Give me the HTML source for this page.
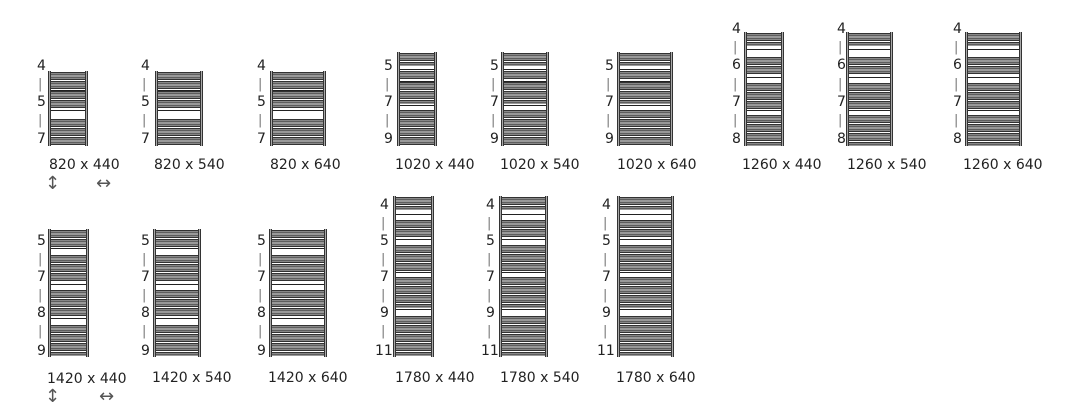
<!DOCTYPE html>
<html><head><meta charset="utf-8"><style>
html,body{margin:0;padding:0;background:#fff;}
body{width:1076px;height:409px;position:relative;overflow:hidden;font-family:"DejaVu Sans","Liberation Sans",sans-serif;color:#222;}
.t{position:absolute;font-size:14px;line-height:14px;white-space:nowrap;}
.n{position:absolute;font-size:14px;line-height:14px;}
.bar{position:absolute;font-size:13px;line-height:13px;color:#777;}
.ar{position:absolute;font-size:18px;line-height:18px;color:#555;}
svg{position:absolute;left:0;top:0;}
</style></head><body>
<svg id="s" width="1076" height="409"></svg>

<div class="t" style="left:49px;top:158px">820 x 440</div>
<div class="t" style="left:154px;top:158px">820 x 540</div>
<div class="t" style="left:270px;top:158px">820 x 640</div>
<div class="t" style="left:395px;top:158px">1020 x 440</div>
<div class="t" style="left:500px;top:158px">1020 x 540</div>
<div class="t" style="left:617px;top:158px">1020 x 640</div>
<div class="t" style="left:742px;top:158px">1260 x 440</div>
<div class="t" style="left:847px;top:158px">1260 x 540</div>
<div class="t" style="left:963px;top:158px">1260 x 640</div>
<div class="t" style="left:47px;top:372px">1420 x 440</div>
<div class="t" style="left:152px;top:371px">1420 x 540</div>
<div class="t" style="left:268px;top:371px">1420 x 640</div>
<div class="t" style="left:395px;top:371px">1780 x 440</div>
<div class="t" style="left:500px;top:371px">1780 x 540</div>
<div class="t" style="left:616px;top:371px">1780 x 640</div>
<div class="ar" style="left:45px;top:175px">↕</div>
<div class="ar" style="left:96px;top:175px">↔</div>
<div class="ar" style="left:45px;top:388px">↕</div>
<div class="ar" style="left:99px;top:388px">↔</div>

<script>
var s=document.getElementById('s'),h='';
function R(x,y,w,hh,f){h+='<rect x="'+x+'" y="'+y+'" width="'+w+'" height="'+hh+'" fill="'+f+'"/>';}
function rad(x0,x1,top,bot,groups){
 groups.forEach(function(g){
  for(var y=g[0];y<g[1]-2;y+=4.5){R(x0,y,x1-x0,3.5,'#333');R(x0+1,y+1,x1-x0-2,1.5,'#888');}
 });
 for(var i=0;i<groups.length-1;i++){R(x0,groups[i][1]+2,x1-x0,1,'#222');}
 R(x0,top,3,bot-top,'#333');R(x1-3,top,3,bot-top,'#333');
 R(x0+1,top,1,bot-top,'#aaa');R(x1-2,top,1,bot-top,'#aaa');
}
var g820=[[72,88],[91,108],[119,145]];
var g1020=[[53,67],[71,79],[82,103],[110,145]];
var g1260=[[33,47],[57,75],[83,108],[115,145]];
var g1420=[[230,246],[255,282],[290,316],[325,356]];
var g1780=[[197,212],[220,237],[245,270],[277,307],[316,356]];
rad(48,88,71,146,g820);rad(155,203,71,146,g820);rad(270,326,71,146,g820);
rad(397,437,52,146,g1020);rad(501,549,52,146,g1020);rad(617,673,52,146,g1020);
rad(744,784,32,146,g1260);rad(846,893,32,146,g1260);rad(965,1022,32,146,g1260);
rad(48,89,229,357,g1420);rad(153,201,229,357,g1420);rad(269,327,229,357,g1420);
rad(393,434,196,357,g1780);rad(499,548,196,357,g1780);rad(617,674,196,357,g1780);
s.innerHTML=h;
</script>

<div class="n" style="left:37px;top:59px">4</div><div class="bar" style="left:38px;top:78px">|</div><div class="n" style="left:37px;top:95px">5</div><div class="bar" style="left:38px;top:114px">|</div><div class="n" style="left:37px;top:132px">7</div>
<div class="n" style="left:141px;top:59px">4</div><div class="bar" style="left:142px;top:78px">|</div><div class="n" style="left:141px;top:95px">5</div><div class="bar" style="left:142px;top:114px">|</div><div class="n" style="left:141px;top:132px">7</div>
<div class="n" style="left:257px;top:59px">4</div><div class="bar" style="left:258px;top:78px">|</div><div class="n" style="left:257px;top:95px">5</div><div class="bar" style="left:258px;top:114px">|</div><div class="n" style="left:257px;top:132px">7</div>

<div class="n" style="left:384px;top:59px">5</div><div class="bar" style="left:385px;top:78px">|</div><div class="n" style="left:384px;top:95px">7</div><div class="bar" style="left:385px;top:114px">|</div><div class="n" style="left:384px;top:132px">9</div>
<div class="n" style="left:490px;top:59px">5</div><div class="bar" style="left:491px;top:78px">|</div><div class="n" style="left:490px;top:95px">7</div><div class="bar" style="left:491px;top:114px">|</div><div class="n" style="left:490px;top:132px">9</div>
<div class="n" style="left:605px;top:59px">5</div><div class="bar" style="left:606px;top:78px">|</div><div class="n" style="left:605px;top:95px">7</div><div class="bar" style="left:606px;top:114px">|</div><div class="n" style="left:605px;top:132px">9</div>

<div class="n" style="left:732px;top:22px">4</div><div class="bar" style="left:733px;top:41px">|</div><div class="n" style="left:732px;top:58px">6</div><div class="bar" style="left:733px;top:78px">|</div><div class="n" style="left:732px;top:95px">7</div><div class="bar" style="left:733px;top:114px">|</div><div class="n" style="left:732px;top:132px">8</div>
<div class="n" style="left:837px;top:22px">4</div><div class="bar" style="left:838px;top:41px">|</div><div class="n" style="left:837px;top:58px">6</div><div class="bar" style="left:838px;top:78px">|</div><div class="n" style="left:837px;top:95px">7</div><div class="bar" style="left:838px;top:114px">|</div><div class="n" style="left:837px;top:132px">8</div>
<div class="n" style="left:953px;top:22px">4</div><div class="bar" style="left:954px;top:41px">|</div><div class="n" style="left:953px;top:58px">6</div><div class="bar" style="left:954px;top:78px">|</div><div class="n" style="left:953px;top:95px">7</div><div class="bar" style="left:954px;top:114px">|</div><div class="n" style="left:953px;top:132px">8</div>

<div class="n" style="left:37px;top:234px">5</div><div class="bar" style="left:38px;top:253px">|</div><div class="n" style="left:37px;top:270px">7</div><div class="bar" style="left:38px;top:289px">|</div><div class="n" style="left:37px;top:306px">8</div><div class="bar" style="left:38px;top:325px">|</div><div class="n" style="left:37px;top:344px">9</div>
<div class="n" style="left:141px;top:234px">5</div><div class="bar" style="left:142px;top:253px">|</div><div class="n" style="left:141px;top:270px">7</div><div class="bar" style="left:142px;top:289px">|</div><div class="n" style="left:141px;top:306px">8</div><div class="bar" style="left:142px;top:325px">|</div><div class="n" style="left:141px;top:344px">9</div>
<div class="n" style="left:257px;top:234px">5</div><div class="bar" style="left:258px;top:253px">|</div><div class="n" style="left:257px;top:270px">7</div><div class="bar" style="left:258px;top:289px">|</div><div class="n" style="left:257px;top:306px">8</div><div class="bar" style="left:258px;top:325px">|</div><div class="n" style="left:257px;top:344px">9</div>

<div class="n" style="left:380px;top:198px">4</div><div class="bar" style="left:381px;top:217px">|</div><div class="n" style="left:380px;top:234px">5</div><div class="bar" style="left:381px;top:253px">|</div><div class="n" style="left:380px;top:270px">7</div><div class="bar" style="left:381px;top:289px">|</div><div class="n" style="left:380px;top:306px">9</div><div class="bar" style="left:381px;top:325px">|</div><div class="n" style="left:375px;top:344px">11</div>
<div class="n" style="left:486px;top:198px">4</div><div class="bar" style="left:487px;top:217px">|</div><div class="n" style="left:486px;top:234px">5</div><div class="bar" style="left:487px;top:253px">|</div><div class="n" style="left:486px;top:270px">7</div><div class="bar" style="left:487px;top:289px">|</div><div class="n" style="left:486px;top:306px">9</div><div class="bar" style="left:487px;top:325px">|</div><div class="n" style="left:481px;top:344px">11</div>
<div class="n" style="left:602px;top:198px">4</div><div class="bar" style="left:603px;top:217px">|</div><div class="n" style="left:602px;top:234px">5</div><div class="bar" style="left:603px;top:253px">|</div><div class="n" style="left:602px;top:270px">7</div><div class="bar" style="left:603px;top:289px">|</div><div class="n" style="left:602px;top:306px">9</div><div class="bar" style="left:603px;top:325px">|</div><div class="n" style="left:597px;top:344px">11</div>
</body></html>
